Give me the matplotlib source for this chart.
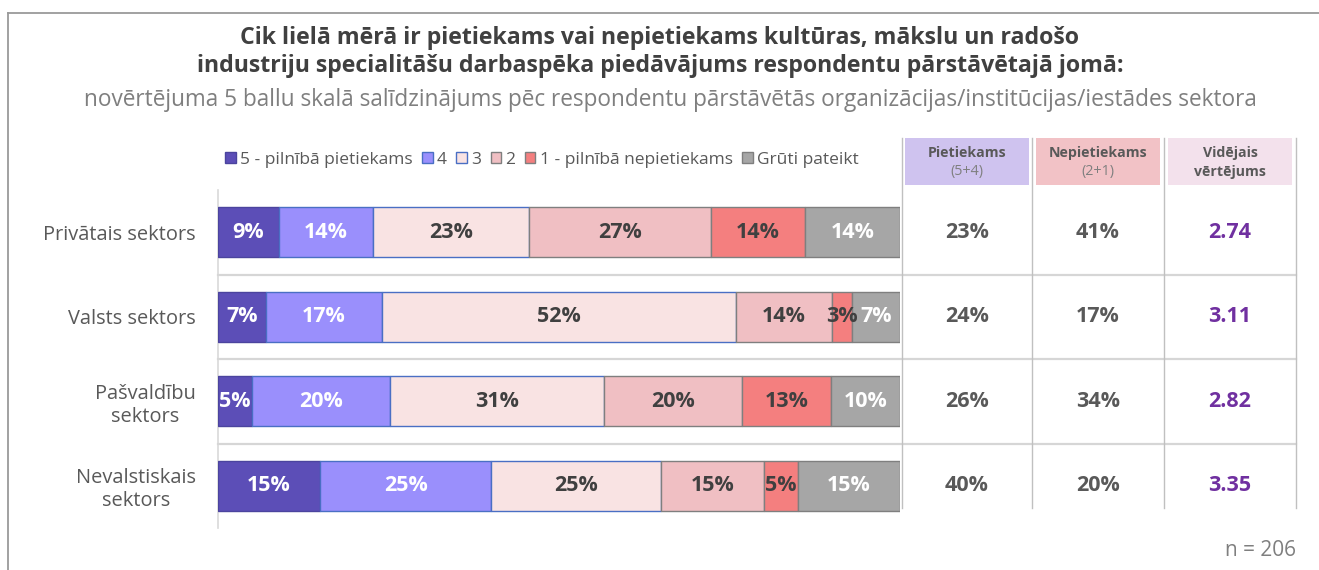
import matplotlib
matplotlib.use("Agg")
import matplotlib.pyplot as plt
from matplotlib.patches import Rectangle, Patch
from matplotlib.lines import Line2D
import matplotlib.transforms as mtransforms

plt.rcParams['font.family'] = ['Open Sans', 'DejaVu Sans']

# ---------------- data ----------------
sectors = ["Privātais sektors", "Valsts sektors", "Pašvaldību\nsektors", "Nevalstiskais\nsektors"]
series_names = ["5 - pilnībā pietiekams", "4", "3", "2", "1 - pilnībā nepietiekams", "Grūti pateikt"]
s5 = [9, 7, 5, 15]
s4 = [14, 17, 20, 25]
s3 = [23, 52, 31, 25]
s2 = [27, 14, 20, 15]
s1 = [14, 3, 13, 5]
sdk = [14, 7, 10, 15]
pietiekams = [23, 24, 26, 40]
nepietiekams = [41, 17, 34, 20]
videjais = [2.74, 3.11, 2.82, 3.35]
col_headers = [("Pietiekams", "(5+4)"), ("Nepietiekams", "(2+1)"), ("Vidējais", "vērtējums")]
n_label = "n = 206"

title1 = "Cik lielā mērā ir pietiekams vai nepietiekams kultūras, mākslu un radošo"
title2 = "industriju specialitāšu darbaspēka piedāvājums respondentu pārstāvētajā jomā:"
subtitle = "novērtējuma 5 ballu skalā salīdzinājums pēc respondentu pārstāvētās organizācijas/institūcijas/iestādes sektora"

# ---------------- style ----------------
fills = ["#5c4eb7", "#9a8ffc", "#f9e3e3", "#f0bfc3", "#f47f7f", "#a6a6a6"]
edges = ["#4b449e", "#4a6fc4", "#4a6fc4", "#7f7f7f", "#7f7f7f", "#7f7f7f"]
txtcols = ["white", "white", "#404040", "#404040", "#404040", "white"]

W, H = 1319, 570
fig = plt.figure(figsize=(W / 100, H / 100), dpi=100)
fig.patch.set_facecolor("white")

def fx(px):
    return px / W

def fy(py):
    return 1 - py / H

# frame
fig.add_artist(Line2D([fx(8), fx(8)], [fy(13), fy(570)], color="#9a9a9a", lw=1.3))
fig.add_artist(Line2D([fx(8), fx(1319)], [fy(13), fy(13)], color="#9a9a9a", lw=1.3))

# titles
fig.text(fx(660), fy(38), title1, ha="center", va="center", fontsize=16.7, fontweight="bold", color="#404040")
fig.text(fx(660), fy(66), title2, ha="center", va="center", fontsize=16.7, fontweight="bold", color="#404040")
fig.text(fx(670), fy(100), subtitle, ha="center", va="center", fontsize=16.3, color="#7f7f7f")

# bar axes
x0, x1, y0, y1 = 218, 900, 190, 528
ax = fig.add_axes([fx(x0), fy(y1), fx(x1) - fx(x0), (y1 - y0) / H])
series = [s5, s4, s3, s2, s1, sdk]
nrows = len(sectors)
ys = list(range(nrows))
totals = [sum(s[i] for s in series) for i in range(nrows)]
lefts = [0.0] * nrows
for k, s in enumerate(series):
    widths = [s[i] / totals[i] for i in range(nrows)]
    ax.barh(ys, widths, left=lefts, height=0.59, color=fills[k], edgecolor=edges[k], linewidth=1.0, zorder=3)
    for i in range(nrows):
        ax.text(lefts[i] + widths[i] / 2, ys[i], f"{s[i]}%", ha="center", va="center",
                fontsize=15.5, fontweight="bold", color=txtcols[k], zorder=4)
    lefts = [lefts[i] + widths[i] for i in range(nrows)]
ax.set_xlim(0, 1)
ax.set_ylim(nrows - 0.5, -0.5)
for sp in ["top", "right", "bottom"]:
    ax.spines[sp].set_visible(False)
ax.spines["left"].set_color("#d9d9d9")
ax.spines["left"].set_linewidth(1.2)
ax.set_xticks([])
ax.set_yticks(ys)
ax.set_yticklabels(sectors, fontsize=14.4, color="#595959", multialignment="center")
ax.tick_params(axis="y", length=0, pad=16)
ax.set_facecolor("none")

# row separators (across bars and table)
blend = mtransforms.blended_transform_factory(fig.transFigure, ax.transData)
for i in range(nrows - 1):
    fig.add_artist(Line2D([fx(218), fx(1296)], [i + 0.5, i + 0.5], transform=blend,
                          color="#d6d6d6", lw=1.6, zorder=1))

# table vertical lines
col_x = [902, 1032, 1164, 1296]
for cx in col_x:
    fig.add_artist(Line2D([fx(cx), fx(cx)], [fy(138), fy(508)], color="#c0c0c0", lw=1.0))

# header boxes
box_cols = ["#cfc3ef", "#f2c2c6", "#f3e1ec"]
box_x = [(905, 1029), (1036, 1160), (1168, 1292)]
for (bx0, bx1), bc, (h1, h2), j in zip(box_x, box_cols, col_headers, range(3)):
    fig.add_artist(Rectangle((fx(bx0), fy(185)), fx(bx1) - fx(bx0), (185 - 138) / H,
                             facecolor=bc, edgecolor="none", transform=fig.transFigure))
    cxm = fx((bx0 + bx1) / 2)
    fig.text(cxm, fy(153), h1, ha="center", va="center", fontsize=10.2, fontweight="bold", color="#595959")
    if j == 2:
        fig.text(cxm, fy(172), h2, ha="center", va="center", fontsize=10.2, fontweight="bold", color="#595959")
    else:
        fig.text(cxm, fy(172), h2, ha="center", va="center", fontsize=10.3, color="#7f7f7f")

# table values
centers = [(col_x[j] + col_x[j + 1]) / 2 for j in range(3)]
for i in range(nrows):
    fig.text(fx(centers[0]), ys[i], f"{pietiekams[i]}%", transform=blend, ha="center", va="center",
             fontsize=15.5, fontweight="bold", color="#595959")
    fig.text(fx(centers[1]), ys[i], f"{nepietiekams[i]}%", transform=blend, ha="center", va="center",
             fontsize=15.5, fontweight="bold", color="#595959")
    fig.text(fx(centers[2]), ys[i], f"{videjais[i]:.2f}", transform=blend, ha="center", va="center",
             fontsize=15.5, fontweight="bold", color="#7030a0")

# legend
handles = [Patch(facecolor=fills[k], edgecolor=edges[k], linewidth=1.0, label=series_names[k]) for k in range(6)]
fig.legend(handles=handles, loc="center", bbox_to_anchor=(fx(542), fy(160)), ncol=6, frameon=False,
           fontsize=12.5, handlelength=0.6, handleheight=0.6, handletextpad=0.25, columnspacing=0.55,
           labelcolor="#595959", borderaxespad=0)

fig.text(fx(1296), fy(550), n_label, ha="right", va="center", fontsize=15, color="#7f7f7f")

fig.savefig("out.png", dpi=100)
